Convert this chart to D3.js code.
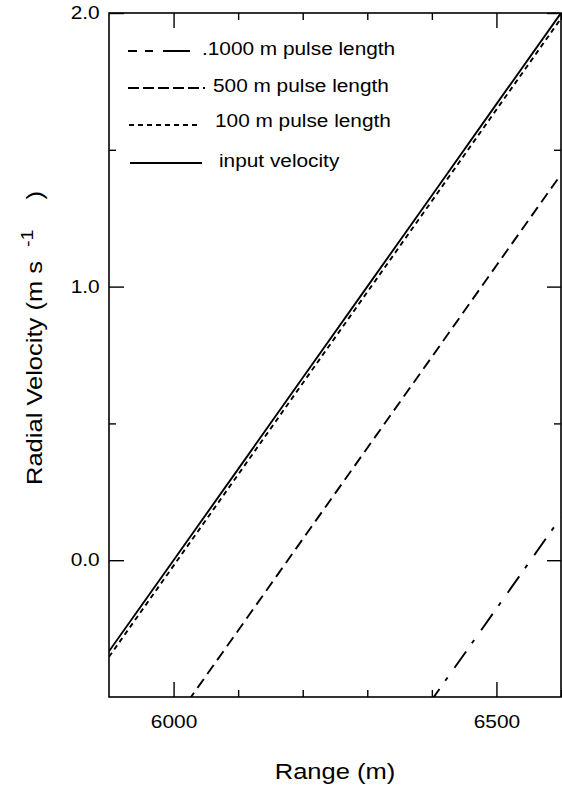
<!DOCTYPE html>
<html>
<head>
<meta charset="utf-8">
<script src="https://cdn.jsdelivr.net/npm/d3@7"></script>
<style>
  html, body { margin: 0; padding: 0; background: #fff; }
  svg { display: block; font-family: "Liberation Sans", Arial, Helvetica, sans-serif; }
</style>
</head>
<body>
<svg id="chart" width="562" height="791"></svg>
<script>
// Range gates (m)
const ranges = [5900, 6000, 6100, 6200, 6300, 6400, 6500, 6600];

// Radial velocity (m s^-1) at each range
const inputVelocity = [-0.333, 0.000, 0.333, 0.667, 1.000, 1.333, 1.667, 2.000];
const pulse100 = [-0.353, -0.020, 0.313, 0.647, 0.980, 1.313, 1.647, 1.980];
const pulse500 = [-0.923, -0.590, -0.257, 0.077, 0.410, 0.743, 1.077, 1.410];
const pulse1000 = [-2.177, -1.843, -1.510, -1.177, -0.843, -0.510, -0.177, 0.157];

// Axis ticks
const xMajorTicks = [6000, 6500];
const xMinorTicks = [6100, 6200, 6300, 6400, 6600];
const yMajorTicks = [0.0, 1.0, 2.0];
const yMinorTicks = [0.5, 1.5];

const legendLabels = [".1000 m pulse length", "500 m pulse length", "100 m pulse length", "input velocity"];

const series = [
  { name: legendLabels[0], values: pulse1000, dash: "20,10,4,12", legendDash: "9,8,8,10,27" },
  { name: legendLabels[1], values: pulse500, dash: "11,6", legendDash: "11,4" },
  { name: legendLabels[2], values: pulse100, dash: "5,4", legendDash: "5,4" },
  { name: legendLabels[3], values: inputVelocity, dash: null, legendDash: null }
];

// The lettering is a wide grotesque; Liberation Sans is widened to fit it
const WIDEN = 1.16;
const LEGEND_WIDEN = 1.19;

const svg = d3.select("#chart");
const plot = { left: 109, right: 561, top: 13, bottom: 697 };

const x = d3.scaleLinear().domain([5900, 6600]).range([plot.left, plot.right]);
const y = d3.scaleLinear().domain([-0.5, 2.0]).range([plot.bottom, plot.top]);

svg.append("clipPath").attr("id", "plot-clip")
  .append("rect")
  .attr("x", plot.left).attr("y", plot.top)
  .attr("width", plot.right - plot.left).attr("height", plot.bottom - plot.top);

// Frame
svg.append("rect")
  .attr("x", plot.left).attr("y", plot.top)
  .attr("width", plot.right - plot.left).attr("height", plot.bottom - plot.top)
  .attr("fill", "none").attr("stroke", "#000").attr("stroke-width", 1.6);

const fmtX = d3.format("d");
const fmtY = d3.format(".1f");

function styleAxis(g) {
  g.select(".domain").remove();
  g.selectAll(".tick line").attr("stroke", "#000").attr("stroke-width", 1.4);
  g.selectAll(".tick text")
    .attr("fill", "#000")
    .attr("transform", `scale(${WIDEN},1)`)
    .style("font-size", "18px");
}

// Bottom axis (labelled) and top axis, ticks pointing inward
svg.append("g").attr("transform", `translate(0,${plot.bottom})`)
  .call(d3.axisBottom(x).tickValues(xMajorTicks).tickSize(-15).tickPadding(18).tickFormat(fmtX))
  .call(styleAxis);
svg.append("g").attr("transform", `translate(0,${plot.bottom})`)
  .call(d3.axisBottom(x).tickValues(xMinorTicks).tickSize(-7).tickFormat(""))
  .call(styleAxis);
svg.append("g").attr("transform", `translate(0,${plot.top})`)
  .call(d3.axisTop(x).tickValues(xMajorTicks).tickSize(-15).tickFormat(""))
  .call(styleAxis);
svg.append("g").attr("transform", `translate(0,${plot.top})`)
  .call(d3.axisTop(x).tickValues(xMinorTicks).tickSize(-7).tickFormat(""))
  .call(styleAxis);

// Left axis (labelled) and right axis
svg.append("g").attr("transform", `translate(${plot.left},0)`)
  .call(d3.axisLeft(y).tickValues(yMajorTicks).tickSize(-15).tickPadding(8).tickFormat(fmtY))
  .call(styleAxis);
svg.append("g").attr("transform", `translate(${plot.left},0)`)
  .call(d3.axisLeft(y).tickValues(yMinorTicks).tickSize(-7).tickFormat(""))
  .call(styleAxis);
svg.append("g").attr("transform", `translate(${plot.right},0)`)
  .call(d3.axisRight(y).tickValues(yMajorTicks).tickSize(-14).tickFormat(""))
  .call(styleAxis);
svg.append("g").attr("transform", `translate(${plot.right},0)`)
  .call(d3.axisRight(y).tickValues(yMinorTicks).tickSize(-7).tickFormat(""))
  .call(styleAxis);

// Velocity profiles
const line = d3.line().x((d, i) => x(ranges[i])).y(d => y(d));
const lines = svg.append("g").attr("clip-path", "url(#plot-clip)");
series.forEach(s => {
  lines.append("path")
    .datum(s.values)
    .attr("d", line)
    .attr("fill", "none")
    .attr("stroke", "#000")
    .attr("stroke-width", 1.9)
    .attr("stroke-dasharray", s.dash);
});

// Legend
const legendRows = [
  { lineY: 51, x1: 128, x2: 190, textX: 202, baseline: 55 },
  { lineY: 88, x1: 128, x2: 205, textX: 213, baseline: 92 },
  { lineY: 125, x1: 129, x2: 200, textX: 215, baseline: 127 },
  { lineY: 163, x1: 130, x2: 202, textX: 219, baseline: 167 }
];
const legend = svg.append("g");
series.forEach((s, i) => {
  const r = legendRows[i];
  legend.append("line")
    .attr("x1", r.x1).attr("x2", r.x2)
    .attr("y1", r.lineY).attr("y2", r.lineY)
    .attr("stroke", "#000").attr("stroke-width", 1.9)
    .attr("stroke-dasharray", s.legendDash);
  legend.append("text")
    .attr("transform", `translate(${r.textX},${r.baseline}) scale(${LEGEND_WIDEN},1)`)
    .style("font-size", "17.5px")
    .text(s.name);
});

// Axis titles
svg.append("text")
  .attr("transform", `translate(335,779) scale(${WIDEN},1)`)
  .attr("text-anchor", "middle")
  .style("font-size", "22px")
  .text("Range (m)");

const yTitle = svg.append("text")
  .attr("transform", `translate(42,485) rotate(-90) scale(${WIDEN},1)`)
  .style("font-size", "22px");
yTitle.append("tspan").text("Radial Velocity (m s");
yTitle.append("tspan").attr("dx", 12).attr("dy", -9).style("font-size", "17px").text("-1");
yTitle.append("tspan").attr("dx", 26).attr("dy", 9).text(")");
</script>
</body>
</html>
